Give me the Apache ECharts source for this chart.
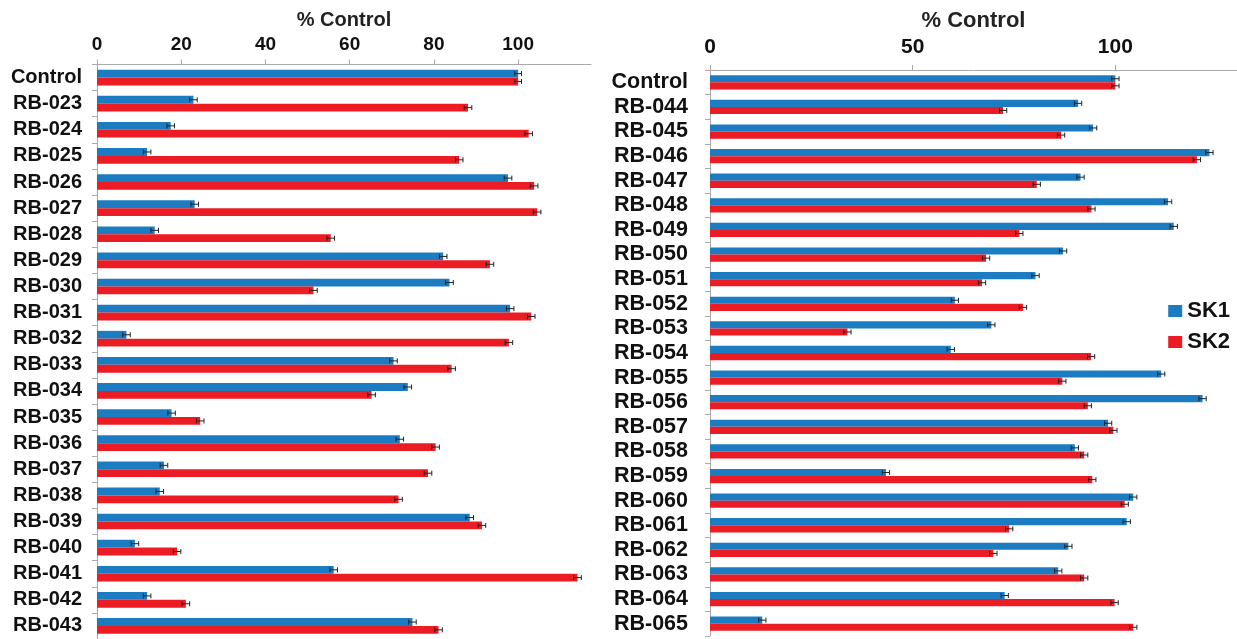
<!DOCTYPE html>
<html>
<head>
<meta charset="utf-8">
<script src="https://cdn.jsdelivr.net/npm/echarts@6/dist/echarts.min.js"></script>
<style>
html,body{margin:0;padding:0;background:#fff;}
#c{width:1237px;height:639px;}
</style>
</head>
<body>
<div id="c"></div>
<script>
const leftCats = ['Control','RB-023','RB-024','RB-025','RB-026','RB-027','RB-028','RB-029','RB-030','RB-031','RB-032','RB-033','RB-034','RB-035','RB-036','RB-037','RB-038','RB-039','RB-040','RB-041','RB-042','RB-043'];
const leftSK1 = [100,22.9,17.5,11.9,97.6,23.2,13.7,82.2,83.7,98.1,7.0,70.4,73.8,17.7,71.9,15.9,14.9,88.5,9.0,56.2,11.9,74.9];
const leftSK2 = [100,88.1,102.5,86.0,103.8,104.5,55.5,93.3,51.4,103.1,97.8,84.2,65.2,24.5,80.4,78.6,71.6,91.4,19.0,114.1,21.1,81.1];
const leftErr1 = [0.8,0.9,0.9,0.9,0.9,0.9,0.9,0.9,0.9,0.9,0.9,0.9,0.9,0.9,0.9,0.9,0.9,0.9,0.9,0.9,0.9,0.9];
const leftErr2 = [0.8,0.9,0.9,0.9,0.9,0.9,0.9,0.9,0.9,0.9,0.9,0.9,0.9,0.9,0.9,0.9,0.9,0.9,0.9,0.9,0.9,0.9];

const rightCats = ['Control','RB-044','RB-045','RB-046','RB-047','RB-048','RB-049','RB-050','RB-051','RB-052','RB-053','RB-054','RB-055','RB-056','RB-057','RB-058','RB-059','RB-060','RB-061','RB-062','RB-063','RB-064','RB-065'];
const rightSK1 = [100,90.8,94.5,123.2,91.4,113.0,114.4,87.1,80.3,60.4,69.4,59.4,111.3,121.5,98.2,90.0,43.4,104.4,102.8,88.4,85.9,72.7,12.9];
const rightSK2 = [100,72.3,86.6,120.1,80.6,94.1,76.3,68.1,67.1,77.2,33.9,94.0,86.9,93.2,99.5,92.3,94.3,102.3,73.8,69.9,92.3,99.8,104.4];
const rightErr1 = [0.9,0.9,0.9,0.9,0.9,0.9,0.9,0.9,0.9,0.9,0.9,0.9,0.9,0.9,0.9,0.9,0.9,0.9,0.9,0.9,0.9,0.9,0.9];
const rightErr2 = [0.9,0.9,0.9,0.9,0.9,0.9,0.9,0.9,0.9,0.9,0.9,0.9,0.9,0.9,0.9,0.9,0.9,0.9,0.9,0.9,0.9,0.9,0.9];

const leftTicks = [0,20,40,60,80,100];
const rightTicks = [0,50,100];

const BLUE = '#1c7cc2';
const RED = '#ec1c24';
const BAR_L = 0.30;
const BAR_R = 0.29;
const FONT = '"Liberation Sans", Arial, sans-serif';

function errSeries(vals, errs, axisIdx, sign, bar) {
  return {
    type: 'custom',
    xAxisIndex: axisIdx, yAxisIndex: axisIdx,
    silent: true, z: 5,
    encode: {x: 0, y: 1},
    data: vals.map((v, i) => [v, i, errs[i]]),
    renderItem: function (params, api) {
      const v = api.value(0), c = api.value(1), e = api.value(2);
      const band = api.size([0, 1])[1];
      const off = sign * band * bar / 2;
      const a = api.coord([v - e, c]);
      const b = api.coord([v + e, c]);
      const y = a[1] + off;
      const h = 2.5;
      const st = {stroke: '#222', lineWidth: 1};
      return {type: 'group', children: [
        {type: 'line', shape: {x1: a[0], y1: y, x2: b[0], y2: y}, style: st},
        {type: 'line', shape: {x1: a[0], y1: y - h, x2: a[0], y2: y + h}, style: st},
        {type: 'line', shape: {x1: b[0], y1: y - h, x2: b[0], y2: y + h}, style: st}
      ]};
    }
  };
}

function xAx(idx, max, interval, gap, ticks, nameSize, tickSize, margin) {
  return {
    type: 'value', gridIndex: idx, position: 'top', min: 0, max: max, interval: interval,
    name: '% Control', nameLocation: 'middle', nameGap: gap,
    nameTextStyle: {fontFamily: FONT, fontWeight: 'bold', fontSize: nameSize, color: '#222'},
    axisLine: {show: true, lineStyle: {color: '#aaa', width: 1}},
    axisTick: {show: true, inside: false, length: 5, lineStyle: {color: '#aaa'}},
    splitLine: {show: false},
    axisLabel: {fontFamily: FONT, fontWeight: 'bold', fontSize: tickSize, color: '#111', margin: margin,
      showMaxLabel: false,
      formatter: function (v) { return ticks.indexOf(v) >= 0 ? String(v) : ''; }}
  };
}

function yAx(idx, cats, margin, size) {
  return {
    type: 'category', gridIndex: idx, data: cats, inverse: true,
    axisLine: {show: true, lineStyle: {color: '#aaa', width: 1}},
    axisTick: {show: true, length: 5, lineStyle: {color: '#aaa'}},
    axisLabel: {fontFamily: FONT, fontWeight: 'bold', fontSize: size, lineHeight: size, color: '#111', margin: margin, interval: 0}
  };
}

const chart = echarts.init(document.getElementById('c'), null, {renderer: 'canvas'});
chart.setOption({
  animation: false,
  backgroundColor: '#fff',
  legend: {
    orient: 'vertical', right: 2, top: 295,
    itemWidth: 14, itemHeight: 12, itemGap: 9,
    icon: 'rect',
    textStyle: {fontFamily: FONT, fontWeight: 'bold', fontSize: 22, color: '#111'},
    data: ['SK1', 'SK2']
  },
  grid: [
    {left: 97, width: 494, top: 64.5, bottom: -3},
    {left: 710, width: 529, top: 70, bottom: 3}
  ],
  xAxis: [
    xAx(0, 117.3, 20, 32, leftTicks, 20, 19, 10),
    xAx(1, 130, 50, 37, rightTicks, 22, 21, 12)
  ],
  yAxis: [yAx(0, leftCats, 15, 20), yAx(1, rightCats, 22, 21.5)],
  series: [
    {name: 'SK1', type: 'bar', xAxisIndex: 0, yAxisIndex: 0, data: leftSK1, barWidth: (BAR_L*100)+'%', barGap: '0%', itemStyle: {color: BLUE}},
    {name: 'SK2', type: 'bar', xAxisIndex: 0, yAxisIndex: 0, data: leftSK2, barWidth: (BAR_L*100)+'%', barGap: '0%', itemStyle: {color: RED}},
    {name: 'SK1', type: 'bar', xAxisIndex: 1, yAxisIndex: 1, data: rightSK1, barWidth: (BAR_R*100)+'%', barGap: '0%', itemStyle: {color: BLUE}},
    {name: 'SK2', type: 'bar', xAxisIndex: 1, yAxisIndex: 1, data: rightSK2, barWidth: (BAR_R*100)+'%', barGap: '0%', itemStyle: {color: RED}},
    errSeries(leftSK1, leftErr1, 0, -1, BAR_L),
    errSeries(leftSK2, leftErr2, 0, 1, BAR_L),
    errSeries(rightSK1, rightErr1, 1, -1, BAR_R),
    errSeries(rightSK2, rightErr2, 1, 1, BAR_R)
  ]
});
</script>
</body>
</html>
